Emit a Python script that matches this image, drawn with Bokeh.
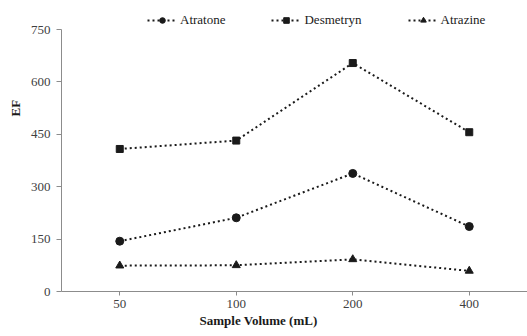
from bokeh.plotting import figure
from bokeh.models import FactorRange, Range1d, FixedTicker, Legend, LegendItem, Title
from bokeh.embed import file_html
from bokeh.resources import INLINE

volumes = ["50", "100", "200", "400"]
atratone = [144, 211, 338, 186]
desmetryn = [408, 432, 654, 456]
atrazine = [74, 75, 92, 59]
y_ticks = [0, 150, 300, 450, 600, 750]

FONT = "Liberation Serif"
INK = "#1a1a1a"
AXIS = "#8c8c8c"

# frame spans canvas y 0..291; value 750 sits 29px below the frame top (room for the legend)
y_top = 750 + 29 * 750 / 262

p = figure(width=527, height=336, output_backend="svg", toolbar_location=None,
           x_range=FactorRange(*volumes, range_padding=0), y_range=Range1d(0, y_top),
           min_border_left=61, min_border_right=0, min_border_top=0, min_border_bottom=45)
p.outline_line_color = None
p.xgrid.visible = False
p.ygrid.visible = False
p.background_fill_color = "white"
p.border_fill_color = "white"

renderers = []
for vals, marker, size in [(atratone, "circle", 8), (desmetryn, "square", 7), (atrazine, "triangle", 8)]:
    l = p.line(volumes, vals, line_color=INK, line_width=2, line_dash="2 3")
    s = p.scatter(volumes, vals, marker=marker, size=size, fill_color=INK, line_color=INK)
    renderers.append([l, s])

for ax in (p.xaxis[0], p.yaxis[0]):
    ax.axis_line_color = AXIS
    ax.major_tick_line_color = AXIS
    ax.major_tick_in = 0
    ax.minor_tick_line_color = None
    ax.major_label_text_font = FONT
    ax.major_label_text_font_size = "13px"
    ax.major_label_text_color = "#404040"

p.yaxis[0].ticker = FixedTicker(ticks=y_ticks)
p.yaxis[0].bounds = (0, 750)
p.yaxis[0].major_tick_out = 5
p.yaxis[0].major_label_standoff = 6
p.xaxis[0].major_tick_out = 4
p.xaxis[0].major_label_standoff = 4

legend = Legend(items=[LegendItem(label=n, renderers=r) for n, r in zip(["Atratone", "Desmetryn", "Atrazine"], renderers)],
                orientation="horizontal", location=(86, 263),
                glyph_width=30, glyph_height=14, label_height=14, label_standoff=3,
                spacing=46, padding=3, margin=0,
                label_text_font=FONT, label_text_font_size="13px", label_text_color=INK,
                border_line_color=None, background_fill_alpha=0)
p.add_layout(legend, "center")

p.add_layout(Title(text="EF", align="left", offset=175, standoff=10, text_font=FONT,
                   text_font_size="13px", text_font_style="bold", text_color=INK), "left")
p.add_layout(Title(text="Sample Volume (mL)", align="left", offset=138, standoff=1, text_font=FONT,
                   text_font_size="13px", text_font_style="bold", text_color=INK), "below")

open("out.html", "w").write(file_html(p, INLINE))
